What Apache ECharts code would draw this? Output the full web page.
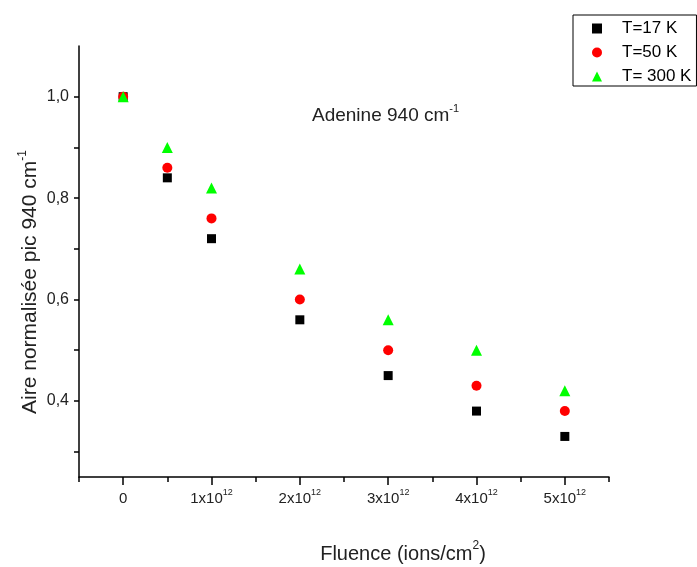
<!DOCTYPE html>
<html>
<head>
<meta charset="utf-8">
<script src="https://cdn.jsdelivr.net/npm/echarts@6/dist/echarts.min.js"></script>
<style>
html,body{margin:0;padding:0;background:#fff;}
#c{width:697px;height:567px;}
</style>
</head>
<body>
<div id="c"></div>
<script>
const fluence = [0, 0.5e12, 1e12, 2e12, 3e12, 4e12, 5e12];
const seriesNames = ['T=17 K', 'T=50 K', 'T= 300 K'];
const t17 = [1.00, 0.84, 0.72, 0.56, 0.45, 0.38, 0.33];
const t50 = [1.00, 0.86, 0.76, 0.60, 0.50, 0.43, 0.38];
const t300 = [1.00, 0.90, 0.82, 0.66, 0.56, 0.50, 0.42];
const xMajorTicks = [0, 1e12, 2e12, 3e12, 4e12, 5e12];
const xMinorTicks = [-0.5e12, 0.5e12, 1.5e12, 2.5e12, 3.5e12, 4.5e12, 5.5e12];
const yTicks = [0.3, 0.4, 0.5, 0.6, 0.7, 0.8, 0.9, 1.0];
const yLabels = [0.4, 0.6, 0.8, 1.0];

const FONT = 'Liberation Sans, Arial, sans-serif';
const TXT = '#222';

function pairs(ys) { return fluence.map((x, i) => [x, ys[i]]); }

const chart = echarts.init(document.getElementById('c'), null, {renderer: 'canvas'});
chart.setOption({
  animation: false,
  backgroundColor: '#fff',
  grid: {left: 79, top: 46, right: 88, bottom: 90, containLabel: false},
  legend: {
    orient: 'vertical',
    left: 573, top: 15,
    padding: [5, 5, 1, 19],
    borderColor: '#000', borderWidth: 1,
    itemWidth: 10, itemHeight: 10, itemGap: 7,
    formatter: function (name) { return '{g|}' + name; },
    textStyle: {
      fontFamily: FONT, fontSize: 17, color: '#000',
      rich: {g: {width: 15}}
    },
    data: [
      {name: seriesNames[0], icon: 'rect', itemStyle: {color: '#000000'}},
      {name: seriesNames[1], icon: 'circle', itemStyle: {color: '#ff0000'}},
      {name: seriesNames[2], icon: 'triangle', itemStyle: {color: '#00ff00'}}
    ]
  },
  xAxis: [{
    type: 'value', min: -0.5e12, max: 5.5e12, position: 'bottom',
    axisLine: {onZero: false, lineStyle: {color: '#000', width: 1.5}},
    axisTick: {customValues: xMajorTicks, length: 8, lineStyle: {color: '#000', width: 1.5}},
    splitLine: {show: false},
    axisLabel: {
      customValues: xMajorTicks, margin: 11,
      fontFamily: FONT, color: TXT,
      formatter: function (v) {
        if (Math.abs(v) < 1) return '{b|0}';
        return '{b|' + Math.round(v / 1e12) + 'x10}{s|12}';
      },
      rich: {
        b: {fontFamily: FONT, fontSize: 15, lineHeight: 18, color: TXT, verticalAlign: 'bottom'},
        s: {fontFamily: FONT, fontSize: 9, lineHeight: 9, color: TXT, verticalAlign: 'top'}
      }
    }
  }, {
    type: 'value', min: -0.5e12, max: 5.5e12, position: 'bottom', offset: 0,
    axisLine: {show: false},
    axisTick: {customValues: xMinorTicks, length: 5, lineStyle: {color: '#000', width: 1.5}},
    axisLabel: {show: false},
    splitLine: {show: false}
  }],
  yAxis: {
    type: 'value', min: 0.25, max: 1.1,
    axisLine: {show: true, onZero: false, lineStyle: {color: '#000', width: 1.5}},
    axisTick: {show: true, customValues: yTicks, length: 5, lineStyle: {color: '#000', width: 1.5}},
    splitLine: {show: false},
    axisLabel: {
      customValues: yLabels, margin: 10,
      fontFamily: FONT, fontSize: 16, color: TXT,
      formatter: function (v) { return v.toFixed(1).replace('.', ','); }
    }
  },
  graphic: [
    {
      type: 'text', x: 29, y: 282, rotation: Math.PI / 2,
      style: {
        text: '{b|Aire normalisée pic 940 cm}{s|-1}',
        textAlign: 'center', textVerticalAlign: 'middle',
        rich: {
          b: {fontFamily: FONT, fontSize: 21, lineHeight: 24, fill: TXT, verticalAlign: 'bottom'},
          s: {fontFamily: FONT, fontSize: 12, lineHeight: 12, fill: TXT, verticalAlign: 'top'}
        }
      }
    },
    {
      type: 'text', x: 403, y: 552,
      style: {
        text: '{b|Fluence (ions/cm}{s|2}{b|)}',
        textAlign: 'center', textVerticalAlign: 'middle',
        rich: {
          b: {fontFamily: FONT, fontSize: 20, lineHeight: 24, fill: TXT, verticalAlign: 'bottom'},
          s: {fontFamily: FONT, fontSize: 12, lineHeight: 12, fill: TXT, verticalAlign: 'top'}
        }
      }
    },
    {
      type: 'text', x: 312, y: 114,
      style: {
        text: '{b|Adenine 940 cm}{s|-1}',
        textAlign: 'left', textVerticalAlign: 'middle',
        rich: {
          b: {fontFamily: FONT, fontSize: 19, lineHeight: 22, fill: TXT, verticalAlign: 'bottom'},
          s: {fontFamily: FONT, fontSize: 11, lineHeight: 11, fill: TXT, verticalAlign: 'top'}
        }
      }
    }
  ],
  series: [
    {name: seriesNames[0], type: 'scatter', symbol: 'rect', symbolSize: 9,
     itemStyle: {color: '#000000', opacity: 1}, data: pairs(t17), z: 2},
    {name: seriesNames[1], type: 'scatter', symbol: 'circle', symbolSize: 10,
     itemStyle: {color: '#ff0000', opacity: 1}, data: pairs(t50), z: 3},
    {name: seriesNames[2], type: 'scatter', symbol: 'triangle', symbolSize: 11,
     itemStyle: {color: '#00ff00', opacity: 1}, data: pairs(t300), z: 4}
  ]
});
</script>
</body>
</html>
